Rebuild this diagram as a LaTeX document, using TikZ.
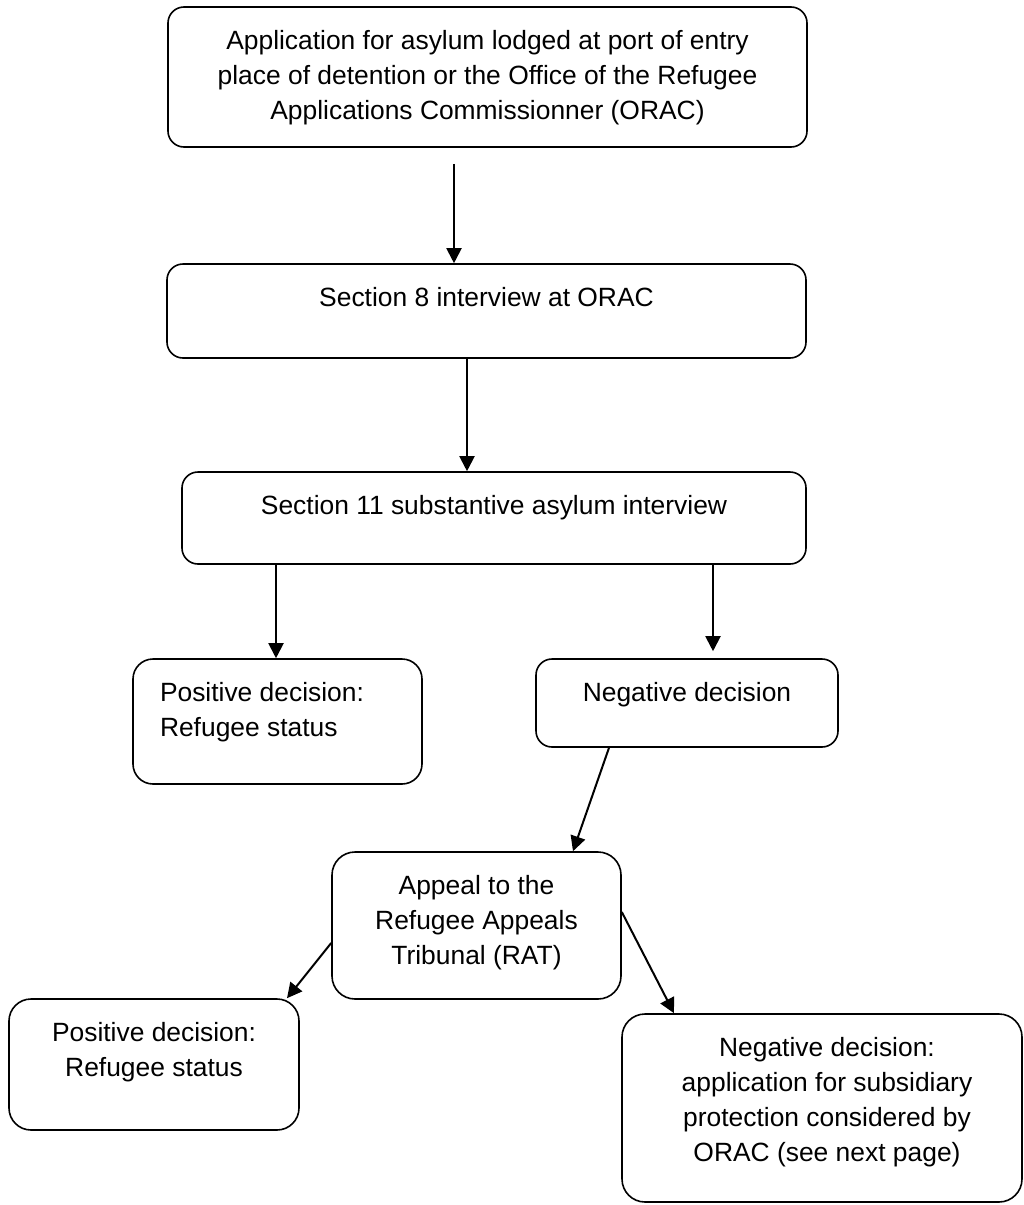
\documentclass[tikz,border=0pt]{standalone}
\usepackage{fontspec}
\setmainfont{Liberation Sans}
\usetikzlibrary{arrows.meta}
\tikzset{
x=1pt, y=-1pt, % one unit is one pixel of the page, y runs downwards
box/.style={draw, line width=1.6pt, rounded corners=16pt, inner sep=0pt, font=\fontsize{26.4}{35}\selectfont}, % the rounded boxes
flow/.style={-{Triangle[length=15pt,width=15pt]}, line width=2pt}, % the arrows between boxes
}
%% text of a box: width, height, text starts near the top
\newcommand{\boxtext}[4][\centering]{\parbox[c][#3][t]{#2}{#1\vspace{17.5pt}\strut #4}}

\begin{document}
\begin{tikzpicture}
        \useasboundingbox (0,0) rectangle (1024,1205);
        %% The boxes, placed at their centres
        \node[box] (apply) at (487.5,77) {\boxtext{639pt}{140pt}{Application for asylum lodged at port of entry\\ place of detention or the Office of the Refugee\\ Applications Commissionner (ORAC)}};
        \node[box] (sec8) at (486.5,311) {\boxtext{639pt}{94pt}{Section 8 interview at ORAC}};
        \node[box] (sec11) at (494,518) {\boxtext{624pt}{92pt}{Section 11 substantive asylum interview}};
        \node[box, rounded corners=20pt] (pos1) at (277.5,721.5) {\boxtext[\raggedright\leftskip=27pt]{289pt}{125pt}{Positive decision:\\ Refugee status}};
        \node[box] (neg) at (687,703) {\boxtext{302pt}{88pt}{Negative decision}};
        \node[box, rounded corners=23pt] (appeal) at (476.5,925.5) {\boxtext{289pt}{147pt}{Appeal to the\\ Refugee Appeals\\ Tribunal (RAT)}};
        \node[box, rounded corners=22pt] (pos2) at (154,1064.5) {\boxtext{290pt}{131pt}{Positive decision:\\ Refugee status}};
        \node[box, rounded corners=23pt] (neg2) at (822,1108) {\boxtext[\centering\leftskip=10pt plus 1fil]{400pt}{188pt}{Negative decision:\\ application for subsidiary\\ protection considered by\\ ORAC (see next page)}};
        %% The straight arrows down
        \coordinate (a1) at ([xshift=-33.5pt,yshift=-16pt]apply.south);
        \draw[flow] (a1) -- (a1 |- sec8.north);
        \coordinate (a2) at ([xshift=-19.5pt]sec8.south);
        \draw[flow] (a2) -- (a2 |- sec11.north);
        \coordinate (a3) at ([xshift=-218pt]sec11.south);
        \draw[flow] (a3) -- (a3 |- pos1.north);
        \coordinate (a4) at ([xshift=219pt]sec11.south);
        \draw[flow, shorten >=7pt] (a4) -- (a4 |- neg.north);
        %% The slanted arrows of the appeal
        \draw[flow] ([xshift=-78pt]neg.south) -- ([xshift=96.5pt]appeal.north);
        \draw[flow] ([yshift=-17.5pt]appeal.west) -- ([xshift=133pt]pos2.north);
        \draw[flow] ([yshift=13.5pt]appeal.east) -- ([xshift=-148pt]neg2.north);
\end{tikzpicture}
\end{document}
